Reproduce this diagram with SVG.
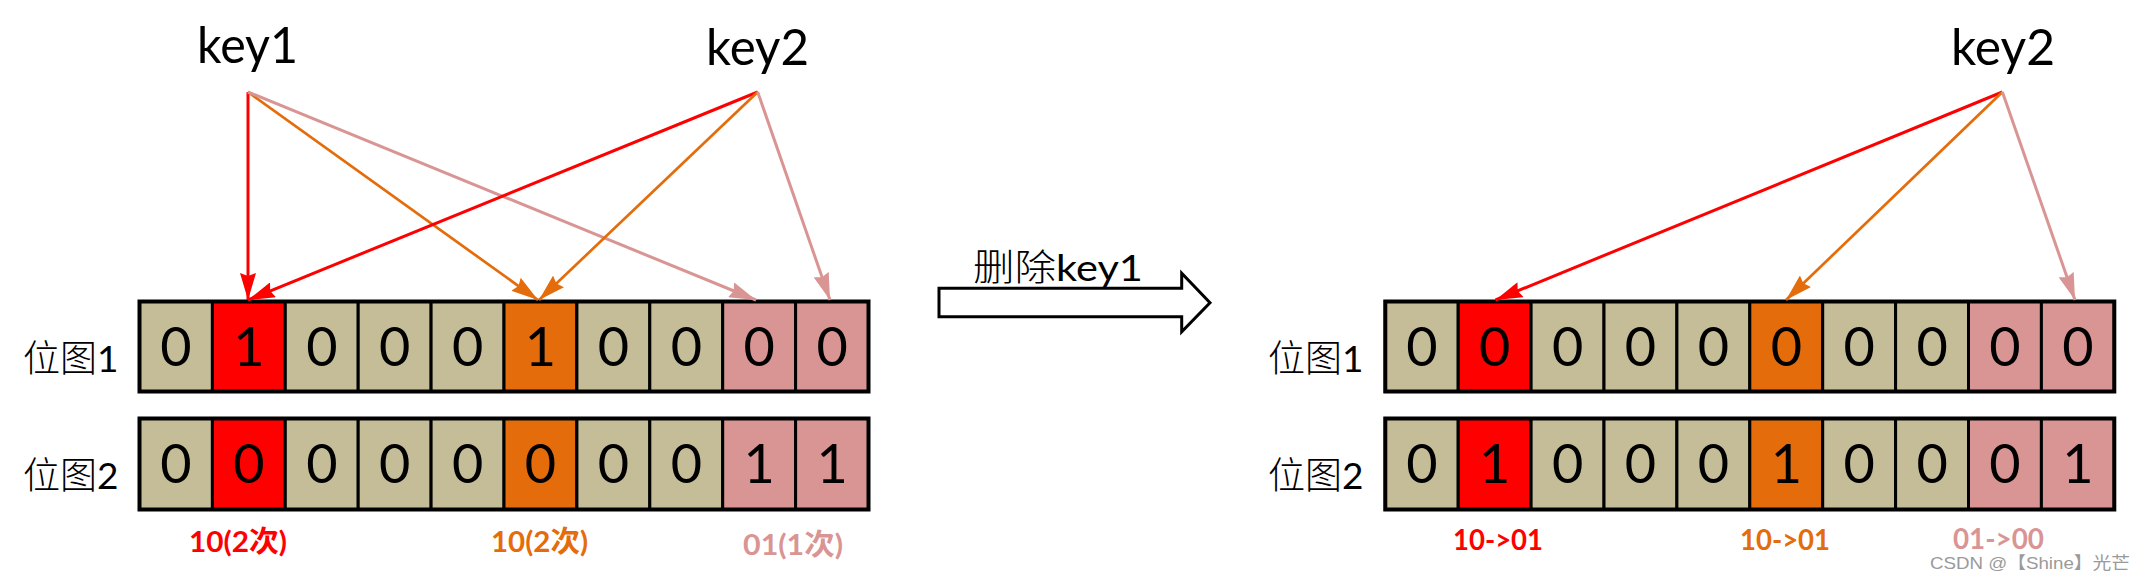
<svg xmlns="http://www.w3.org/2000/svg" width="2146" height="579" viewBox="0 0 2146 579">
<style>
.bg{fill:#fff}
.c{stroke:#000;stroke-width:3}
.t{fill:#C4BD97}.r{fill:#FF0000}.o{fill:#E46C0A}.p{fill:#D99594}
.frame{fill:none;stroke:#000;stroke-width:4}
.d{font-family:Lato,"Liberation Sans",sans-serif;font-size:54px;fill:#000;text-anchor:middle}
.key{font-family:Lato,"Liberation Sans",sans-serif;font-size:50px;fill:#000}
.lab{font-family:Lato,"Liberation Sans","Noto Sans CJK SC",sans-serif;font-size:37px;fill:#000}
.cn{font-family:"Noto Sans CJK SC",sans-serif;font-weight:300}
.bl{font-family:Lato,"Noto Sans CJK SC",sans-serif;font-size:29px;font-weight:bold}
.lr{stroke:#FF0000;stroke-width:3;fill:none}
.lo{stroke:#E46C0A;stroke-width:2.7;fill:none}
.lp{stroke:#D99594;stroke-width:3;fill:none}
</style>
<defs>
<marker id="ar" markerUnits="userSpaceOnUse" markerWidth="28" markerHeight="16" refX="27" refY="8" orient="auto"><path d="M0,0 L27,8 L0,16 L3,8 z" fill="#FF0000"/></marker>
<marker id="ao" markerUnits="userSpaceOnUse" markerWidth="28" markerHeight="16" refX="27" refY="8" orient="auto"><path d="M0,0 L27,8 L0,16 L3,8 z" fill="#E46C0A"/></marker>
<marker id="ap" markerUnits="userSpaceOnUse" markerWidth="28" markerHeight="16" refX="27" refY="8" orient="auto"><path d="M0,0 L27,8 L0,16 L3,8 z" fill="#D99594"/></marker>
</defs>
<rect class="bg" x="0" y="0" width="2146" height="579"/>

<g id="key1"><text class="key" x="197" y="63" textLength="101" lengthAdjust="spacingAndGlyphs">key1</text></g>
<g id="key2-left"><text class="key" x="706" y="65" textLength="103" lengthAdjust="spacingAndGlyphs">key2</text></g>
<g id="key2-right"><text class="key" x="1951" y="65" textLength="104" lengthAdjust="spacingAndGlyphs">key2</text></g>

<g id="label-left-1"><text class="lab" x="23" y="372"><tspan class="cn">位图</tspan>1</text></g>
<g id="label-left-2"><text class="lab" x="23" y="489"><tspan class="cn">位图</tspan>2</text></g>
<g id="label-right-1"><text class="lab" x="1268" y="372"><tspan class="cn">位图</tspan>1</text></g>
<g id="label-right-2"><text class="lab" x="1268" y="489"><tspan class="cn">位图</tspan>2</text></g>

<g id="bitmap1-left">
<rect class="c t" x="139.5" y="301.5" width="72.9" height="90"/>
<rect class="c r" x="212.4" y="301.5" width="72.9" height="90"/>
<rect class="c t" x="285.3" y="301.5" width="72.9" height="90"/>
<rect class="c t" x="358.2" y="301.5" width="72.9" height="90"/>
<rect class="c t" x="431.1" y="301.5" width="72.9" height="90"/>
<rect class="c o" x="504" y="301.5" width="72.9" height="90"/>
<rect class="c t" x="576.9" y="301.5" width="72.9" height="90"/>
<rect class="c t" x="649.8" y="301.5" width="72.9" height="90"/>
<rect class="c p" x="722.7" y="301.5" width="72.9" height="90"/>
<rect class="c p" x="795.6" y="301.5" width="72.9" height="90"/>
<rect class="frame" x="139.5" y="301.5" width="729" height="90"/>
<text class="d" x="176" y="366">0</text><text class="d" x="248.9" y="366">1</text><text class="d" x="321.8" y="366">0</text><text class="d" x="394.7" y="366">0</text><text class="d" x="467.6" y="366">0</text><text class="d" x="540.5" y="366">1</text><text class="d" x="613.4" y="366">0</text><text class="d" x="686.3" y="366">0</text><text class="d" x="759.2" y="366">0</text><text class="d" x="832.1" y="366">0</text>
</g>
<g id="bitmap2-left">
<rect class="c t" x="139.5" y="418.5" width="72.9" height="91"/>
<rect class="c r" x="212.4" y="418.5" width="72.9" height="91"/>
<rect class="c t" x="285.3" y="418.5" width="72.9" height="91"/>
<rect class="c t" x="358.2" y="418.5" width="72.9" height="91"/>
<rect class="c t" x="431.1" y="418.5" width="72.9" height="91"/>
<rect class="c o" x="504" y="418.5" width="72.9" height="91"/>
<rect class="c t" x="576.9" y="418.5" width="72.9" height="91"/>
<rect class="c t" x="649.8" y="418.5" width="72.9" height="91"/>
<rect class="c p" x="722.7" y="418.5" width="72.9" height="91"/>
<rect class="c p" x="795.6" y="418.5" width="72.9" height="91"/>
<rect class="frame" x="139.5" y="418.5" width="729" height="91"/>
<text class="d" x="176" y="483">0</text><text class="d" x="248.9" y="483">0</text><text class="d" x="321.8" y="483">0</text><text class="d" x="394.7" y="483">0</text><text class="d" x="467.6" y="483">0</text><text class="d" x="540.5" y="483">0</text><text class="d" x="613.4" y="483">0</text><text class="d" x="686.3" y="483">0</text><text class="d" x="759.2" y="483">1</text><text class="d" x="832.1" y="483">1</text>
</g>

<g id="bitmap1-right">
<rect class="c t" x="1385.3" y="301.5" width="72.9" height="90"/>
<rect class="c r" x="1458.2" y="301.5" width="72.9" height="90"/>
<rect class="c t" x="1531.1" y="301.5" width="72.9" height="90"/>
<rect class="c t" x="1604" y="301.5" width="72.9" height="90"/>
<rect class="c t" x="1676.9" y="301.5" width="72.9" height="90"/>
<rect class="c o" x="1749.8" y="301.5" width="72.9" height="90"/>
<rect class="c t" x="1822.7" y="301.5" width="72.9" height="90"/>
<rect class="c t" x="1895.6" y="301.5" width="72.9" height="90"/>
<rect class="c p" x="1968.5" y="301.5" width="72.9" height="90"/>
<rect class="c p" x="2041.4" y="301.5" width="72.9" height="90"/>
<rect class="frame" x="1385.3" y="301.5" width="729" height="90"/>
<text class="d" x="1421.8" y="366">0</text><text class="d" x="1494.7" y="366">0</text><text class="d" x="1567.6" y="366">0</text><text class="d" x="1640.5" y="366">0</text><text class="d" x="1713.4" y="366">0</text><text class="d" x="1786.3" y="366">0</text><text class="d" x="1859.2" y="366">0</text><text class="d" x="1932.1" y="366">0</text><text class="d" x="2005" y="366">0</text><text class="d" x="2077.9" y="366">0</text>
</g>
<g id="bitmap2-right">
<rect class="c t" x="1385.3" y="418.5" width="72.9" height="91"/>
<rect class="c r" x="1458.2" y="418.5" width="72.9" height="91"/>
<rect class="c t" x="1531.1" y="418.5" width="72.9" height="91"/>
<rect class="c t" x="1604" y="418.5" width="72.9" height="91"/>
<rect class="c t" x="1676.9" y="418.5" width="72.9" height="91"/>
<rect class="c o" x="1749.8" y="418.5" width="72.9" height="91"/>
<rect class="c t" x="1822.7" y="418.5" width="72.9" height="91"/>
<rect class="c t" x="1895.6" y="418.5" width="72.9" height="91"/>
<rect class="c p" x="1968.5" y="418.5" width="72.9" height="91"/>
<rect class="c p" x="2041.4" y="418.5" width="72.9" height="91"/>
<rect class="frame" x="1385.3" y="418.5" width="729" height="91"/>
<text class="d" x="1421.8" y="483">0</text><text class="d" x="1494.7" y="483">1</text><text class="d" x="1567.6" y="483">0</text><text class="d" x="1640.5" y="483">0</text><text class="d" x="1713.4" y="483">0</text><text class="d" x="1786.3" y="483">1</text><text class="d" x="1859.2" y="483">0</text><text class="d" x="1932.1" y="483">0</text><text class="d" x="2005" y="483">0</text><text class="d" x="2077.9" y="483">1</text>
</g>

<g id="counts-left">
<text class="bl" x="189" y="552" fill="#FF0000" textLength="98" lengthAdjust="spacingAndGlyphs">10(2次)</text>
<text class="bl" x="491" y="552" fill="#E46C0A" textLength="97" lengthAdjust="spacingAndGlyphs">10(2次)</text>
<text class="bl" x="743" y="555" fill="#D99594" textLength="100" lengthAdjust="spacingAndGlyphs">01(1次)</text>
</g>
<g id="counts-right">
<text class="bl" x="1453" y="550" fill="#FF0000" textLength="90" lengthAdjust="spacingAndGlyphs">10-&gt;01</text>
<text class="bl" x="1740" y="550" fill="#E46C0A" textLength="90" lengthAdjust="spacingAndGlyphs">10-&gt;01</text>
<text class="bl" x="1953" y="549" fill="#D99594" textLength="91" lengthAdjust="spacingAndGlyphs">01-&gt;00</text>
</g>

<g id="delete-arrow">
<polygon points="939,288.3 1181.7,288.3 1181.7,273.3 1210,302.7 1181.7,331.7 1181.7,316.7 939,316.7" fill="#fff" stroke="#000" stroke-width="3"/>
<text class="lab" x="973" y="281" font-size="41" textLength="170" lengthAdjust="spacingAndGlyphs"><tspan class="cn">删除</tspan>key1</text>
</g>

<g id="connectors">
<line class="lr" x1="248" y1="92" x2="248" y2="300" marker-end="url(#ar)"/>
<line class="lo" x1="248" y1="92" x2="538" y2="300" marker-end="url(#ao)"/>
<line class="lp" x1="248" y1="92" x2="756" y2="300" marker-end="url(#ap)"/>
<line class="lr" x1="757.7" y1="92" x2="248" y2="300" marker-end="url(#ar)"/>
<line class="lo" x1="757.7" y1="92" x2="539" y2="300" marker-end="url(#ao)"/>
<line class="lp" x1="757.7" y1="92" x2="830" y2="300" marker-end="url(#ap)"/>
<line class="lr" x1="2002.4" y1="92" x2="1495.5" y2="300" marker-end="url(#ar)"/>
<line class="lo" x1="2002.4" y1="92" x2="1786" y2="300" marker-end="url(#ao)"/>
<line class="lp" x1="2002.4" y1="92" x2="2075" y2="300" marker-end="url(#ap)"/>
</g>

<g id="watermark"><text x="1930" y="569" font-family="'Liberation Sans','Noto Sans CJK SC',sans-serif" font-size="17" fill="#9a9a9a" textLength="200" lengthAdjust="spacingAndGlyphs">CSDN @【Shine】光芒</text></g>
</svg>
